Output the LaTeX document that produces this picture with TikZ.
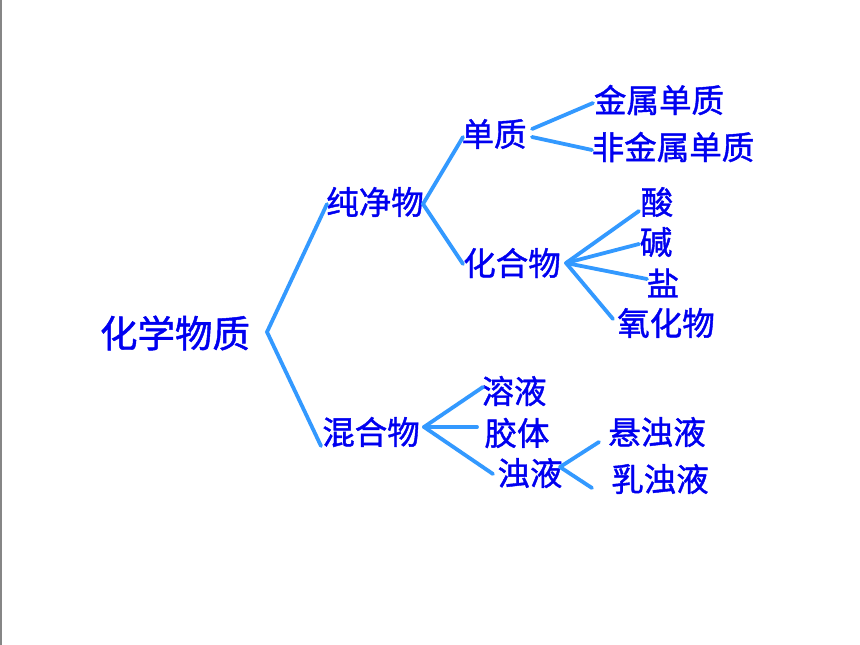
\documentclass[tikz,border=0pt]{standalone}
\usepackage{fontspec}
\newfontfamily\cjk{Noto Sans CJK SC}[FakeBold=1.2]
\definecolor{txtblue}{RGB}{0,0,240}
\definecolor{lineblue}{RGB}{51,153,255}
\begin{document}
\begin{tikzpicture}[x=1pt,y=-1pt,
  lbl/.style={inner sep=0pt, text=txtblue, font=\cjk\fontsize{32.5}{32.5}\selectfont},
  big/.style={inner sep=0pt, text=txtblue, font=\cjk\fontsize{37.5}{37.5}\selectfont},
  br/.style={draw=lineblue, line width=3.8pt, line cap=round}]
\useasboundingbox (0,0) rectangle (860,645);
\fill[white] (0,0) rectangle (860,645);
\fill[gray!95] (0,0) rectangle (2.2,645);
% texts
\node[big] (root) at (175,333) {化学物质};
\node[lbl] (pure) at (375,202) {纯净物};
\node[lbl] (mix) at (371,432) {混合物};
\node[lbl] (elem) at (494,134) {单质};
\node[lbl] (comp) at (512,263) {化合物};
\node[lbl] (metal) at (659,100) {金属单质};
\node[lbl] (nonmetal) at (673,147) {非金属单质};
\node[lbl] (acid) at (657,202) {酸};
\node[lbl] (base) at (656,242) {碱};
\node[lbl] (salt) at (663,283) {盐};
\node[lbl] (oxide) at (666,323) {氧化物};
\node[lbl] (sol) at (514,391) {溶液};
\node[lbl] (coll) at (517,433) {胶体};
\node[lbl] (turb) at (530,473) {浊液};
\node[lbl] (susp) at (657,432) {悬浊液};
\node[lbl] (emul) at (660,479) {乳浊液};
% connector end points
\coordinate (rootV) at (267,332);
\coordinate (pureL) at (327,204);
\coordinate (mixL) at (321,446);
\coordinate (pureR) at (423,204);
\coordinate (elemL) at (463,137);
\coordinate (compL) at (463,264);
\coordinate (elemR1) at (532,129);
\coordinate (elemR2) at (532,137);
\coordinate (metalL) at (593,103);
\coordinate (nonmetalL) at (592,150);
\coordinate (compR) at (566,263);
\coordinate (acidL) at (639,211);
\coordinate (baseL) at (639,244);
\coordinate (saltL) at (647,279);
\coordinate (oxideL) at (613,319);
\coordinate (mixR) at (424,427);
\coordinate (solL) at (483,387);
\coordinate (collL) at (477,427);
\coordinate (turbL) at (493,474);
\coordinate (turbR) at (560,467);
\coordinate (suspL) at (599,442);
\coordinate (emulL) at (592,488);
% connectors
\draw[br] (pureL) -- (rootV) -- (mixL);
\draw[br] (elemL) -- (pureR) -- (compL);
\draw[br] (elemR1) -- (metalL);
\draw[br] (elemR2) -- (nonmetalL);
\draw[br] (compR) -- (acidL);
\draw[br] (compR) -- (baseL);
\draw[br] (compR) -- (saltL);
\draw[br] (compR) -- (oxideL);
\draw[br] (mixR) -- (solL);
\draw[br] (mixR) -- (collL);
\draw[br] (mixR) -- (turbL);
\draw[br] (turbR) -- (suspL);
\draw[br] (turbR) -- (emulL);
\end{tikzpicture}
\end{document}
